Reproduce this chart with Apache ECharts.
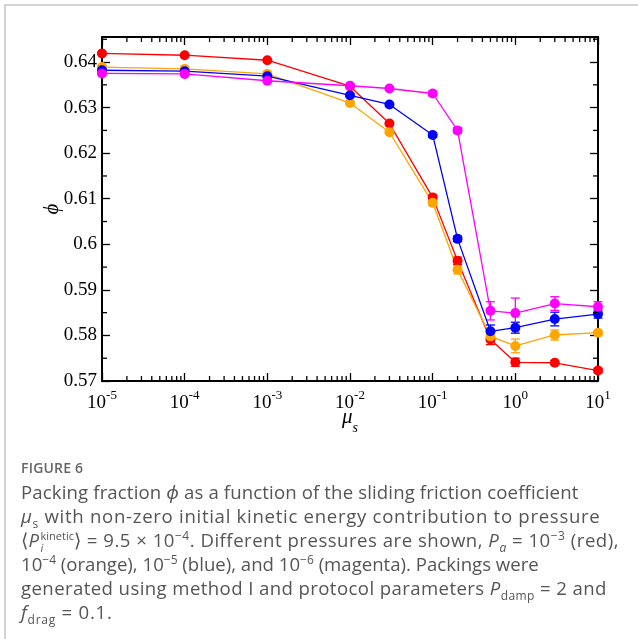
<!DOCTYPE html>
<html>
<head>
<meta charset="utf-8">
<script src="https://cdn.jsdelivr.net/npm/echarts@6/dist/echarts.min.js"></script>
<style>
  html, body { margin: 0; padding: 0; background: #fff; }
  #frame {
    position: absolute; left: 4px; top: 4px; right: 0; bottom: 0;
    border-left: 2px solid #d2d2d2; border-top: 2px solid #d2d2d2;
  }
  #chart { position: absolute; left: 0; top: 0; width: 638px; height: 639px; }
  #caption {
    position: absolute; left: 21px; top: 456px; white-space: nowrap;
    font-family: "Open Sans", "Noto Sans", sans-serif; color: #555;
    font-size: 18.6px; line-height: 24px;
  }
  #caption .fig { font-size: 14px; font-weight: 600; color: #666; letter-spacing: 0.2px; }
  #caption sup, #caption sub { font-size: 12px; line-height: 0; }
  #caption .st { display: inline-block; position: relative; font-size: 11px; line-height: 10px; vertical-align: 7px; margin-left: 1px; letter-spacing: 0; }
  #caption .st .d { position: absolute; left: 0; top: 12px; font-style: italic; }
  #caption .l1 { letter-spacing: 0.13px; }
  #caption .l2 { letter-spacing: 0.7px; }
  #caption .l3 { letter-spacing: 0.5px; }
  #caption .l5 { letter-spacing: 0.4px; }
  #caption .l6 { letter-spacing: 0.75px; }
</style>
</head>
<body>
<div id="frame"></div>
<div id="chart"></div>
<div id="caption">
  <div class="fig">FIGURE 6</div>
  <span class="l1">Packing fraction <i>ϕ</i> as a function of the sliding friction coefficient</span><br>
  <span class="l2"><i>μ</i><sub>s</sub> with non-zero initial kinetic energy contribution to pressure</span><br>
  <span class="l3">⟨<i>P</i><span class="st">kinetic<span class="d">i</span></span>⟩ = 9.5 × 10<sup>−4</sup>. Different pressures are shown, <i>P</i><sub><i>a</i></sub> = 10<sup>−3</sup> (red),</span><br>
  <span class="l4">10<sup>−4</sup> (orange), 10<sup>−5</sup> (blue), and 10<sup>−6</sup> (magenta). Packings were</span><br>
  <span class="l5">generated using method I and protocol parameters <i>P</i><sub>damp</sub> = 2 and</span><br>
  <span class="l6"><i>f</i><sub>drag</sub> = 0.1.</span>
</div>
<script>
// sliding friction coefficient (x) and packing fraction per pressure
const muValues = [1e-5, 1e-4, 1e-3, 1e-2, 3e-2, 1e-1, 2e-1, 5e-1, 1, 3, 10]
const phiRed = [0.6419, 0.6415, 0.6404, 0.6347, 0.6265, 0.6103, 0.5964, 0.5791, 0.5741, 0.5740, 0.5723]
const phiOrange = [0.6389, 0.6385, 0.6374, 0.6310, 0.6246, 0.6091, 0.5944, 0.5798, 0.5777, 0.5801, 0.5806]
const phiBlue = [0.6382, 0.6380, 0.6369, 0.6327, 0.6307, 0.6240, 0.6012, 0.5809, 0.5817, 0.5836, 0.5847]
const phiMagenta = [0.6375, 0.6374, 0.6359, 0.6348, 0.6342, 0.6331, 0.6250, 0.5854, 0.5849, 0.5870, 0.5863]

// error bar half widths
const errRed = [0.0002, 0.0002, 0.0002, 0.0003, 0.0004, 0.0005, 0.0008, 0.0011, 0.0009, 0.0004, 0.0005]
const errOrange = [0.0002, 0.0002, 0.0002, 0.0003, 0.0004, 0.0005, 0.0009, 0.0010, 0.0015, 0.0011, 0.0004]
const errBlue = [0.0002, 0.0002, 0.0002, 0.0003, 0.0004, 0.0005, 0.0006, 0.0014, 0.0012, 0.0015, 0.0009]
const errMagenta = [0.0002, 0.0002, 0.0002, 0.0003, 0.0004, 0.0005, 0.0006, 0.0020, 0.0033, 0.0015, 0.0011]

const yMin = 0.57
const yMax = 0.6455
const xMin = 1e-5
const xMax = 10

const font = 'Liberation Serif'

const groups = [
  { name: 'red', color: '#ff0000', phi: phiRed, err: errRed },
  { name: 'orange', color: '#ffa500', phi: phiOrange, err: errOrange },
  { name: 'blue', color: '#0000ff', phi: phiBlue, err: errBlue },
  { name: 'magenta', color: '#ff00ff', phi: phiMagenta, err: errMagenta },
]

// minor tick positions (axis decoration)
const xMinor = []
for (let d = -5; d < 1; d++) {
  for (let k = 2; k <= 9; k++) xMinor.push(k * Math.pow(10, d))
}
const yMinor = []
for (let v = yMin + 0.005; v < yMax; v += 0.01) yMinor.push(+v.toFixed(3))

function errorBar(params, api) {
  const x = api.value(0)
  const top = api.coord([x, api.value(2)])
  const bot = api.coord([x, api.value(1)])
  const hw = 4.5
  const style = { stroke: api.visual('color'), lineWidth: 1.3 }
  return {
    type: 'group',
    children: [
      { type: 'line', shape: { x1: top[0], y1: top[1], x2: bot[0], y2: bot[1] }, style },
      { type: 'line', shape: { x1: top[0] - hw, y1: top[1], x2: top[0] + hw, y2: top[1] }, style },
      { type: 'line', shape: { x1: bot[0] - hw, y1: bot[1], x2: bot[0] + hw, y2: bot[1] }, style },
    ],
  }
}

function xMinorTick(params, api) {
  const cs = params.coordSys
  const p = api.coord([api.value(0), yMin])
  const style = { stroke: '#000', lineWidth: 1.3 }
  return {
    type: 'group',
    children: [
      { type: 'line', shape: { x1: p[0], y1: cs.y + cs.height, x2: p[0], y2: cs.y + cs.height - 5 }, style },
      { type: 'line', shape: { x1: p[0], y1: cs.y, x2: p[0], y2: cs.y + 5 }, style },
    ],
  }
}

function yMinorTick(params, api) {
  const cs = params.coordSys
  const p = api.coord([xMin, api.value(1)])
  const style = { stroke: '#000', lineWidth: 1.3 }
  return {
    type: 'group',
    children: [
      { type: 'line', shape: { x1: cs.x, y1: p[1], x2: cs.x + 5, y2: p[1] }, style },
      { type: 'line', shape: { x1: cs.x + cs.width, y1: p[1], x2: cs.x + cs.width - 5, y2: p[1] }, style },
    ],
  }
}

const axisLine = { show: true, onZero: false, lineStyle: { color: '#000', width: 2 } }
const axisTick = { show: true, inside: true, length: 8, lineStyle: { color: '#000', width: 1.3 } }

const xAxisBase = {
  type: 'log',
  logBase: 10,
  min: xMin,
  max: xMax,
  interval: 1,
  axisLine,
  axisTick,
  splitLine: { show: false },
  minorTick: { show: false },
}

const yAxisBase = {
  type: 'value',
  min: yMin,
  max: yMax,
  interval: 0.01,
  axisLine,
  axisTick,
  splitLine: { show: false },
}

const chart = echarts.init(document.getElementById('chart'))

const series = []
groups.forEach((g) => {
  series.push({
    type: 'custom',
    name: g.name + '-err',
    renderItem: errorBar,
    itemStyle: { color: g.color },
    encode: { x: 0, y: [1, 2] },
    data: muValues.map((m, i) => [m, g.phi[i] - g.err[i], g.phi[i] + g.err[i]]),
    z: 2,
  })
  series.push({
    type: 'line',
    name: g.name,
    data: muValues.map((m, i) => [m, g.phi[i]]),
    symbol: 'circle',
    symbolSize: 10,
    itemStyle: { color: g.color },
    lineStyle: { color: g.color, width: 1.3 },
    z: 3,
  })
})
series.push({
  type: 'custom',
  renderItem: xMinorTick,
  data: xMinor.map((v) => [v, yMin]),
  silent: true,
  z: 5,
})
series.push({
  type: 'custom',
  renderItem: yMinorTick,
  data: yMinor.map((v) => [xMin, v]),
  silent: true,
  z: 5,
})

chart.setOption({
  animation: false,
  grid: { left: 102, right: 40, top: 37, bottom: 258 },
  xAxis: [
    {
      ...xAxisBase,
      position: 'bottom',
      name: '{m|μ}{s|s}',
      nameLocation: 'middle',
      nameGap: 26,
      nameMoveOverlap: false,
      nameTextStyle: {
        rich: {
          m: { fontFamily: font, fontStyle: 'italic', fontSize: 21, color: '#000', verticalAlign: 'top', lineHeight: 22 },
          s: { fontFamily: font, fontStyle: 'italic', fontSize: 14, color: '#000', verticalAlign: 'bottom', lineHeight: 28 },
        },
      },
      axisLabel: {
        margin: 8,
        formatter: (v) => '{b|10}{s|' + Math.round(Math.log10(v)) + '}',
        rich: {
          b: { fontFamily: font, fontSize: 19, color: '#000', verticalAlign: 'bottom', lineHeight: 24 },
          s: { fontFamily: font, fontSize: 13, color: '#000', verticalAlign: 'top', lineHeight: 14 },
        },
      },
    },
    {
      ...xAxisBase,
      position: 'top',
      axisLabel: { show: false },
    },
  ],
  yAxis: [
    {
      ...yAxisBase,
      position: 'left',
      name: 'ϕ',
      nameLocation: 'middle',
      nameRotate: 90,
      nameGap: 39,
      nameMoveOverlap: false,
      nameTextStyle: { fontFamily: font, fontStyle: 'italic', fontSize: 21, color: '#000' },
      axisLabel: {
        margin: 5,
        showMaxLabel: false,
        fontFamily: font,
        fontSize: 19,
        color: '#000',
        formatter: (v) => String(+v.toFixed(2)),
      },
    },
    {
      ...yAxisBase,
      position: 'right',
      axisLabel: { show: false },
    },
  ],
  series,
})
</script>
</body>
</html>
